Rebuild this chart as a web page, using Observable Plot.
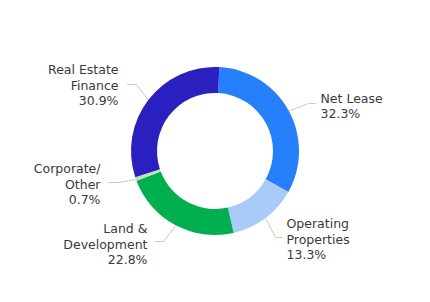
<!DOCTYPE html>
<html><head><meta charset="utf-8">
<script src="https://cdn.jsdelivr.net/npm/d3@7"></script>
<script src="https://cdn.jsdelivr.net/npm/@observablehq/plot@0.6"></script>
<style>body{margin:0;background:#fff}</style>
</head><body><div id="chart"></div>
<script>
// ---- data ----
const categories = ["Net Lease", "Operating Properties", "Land & Development", "Corporate/Other", "Real Estate Finance"];
const shares = [32.3, 13.3, 22.8, 0.7, 30.9];
const labelTexts = ["Net Lease\n32.3%", "Operating\nProperties\n13.3%", "Land &\nDevelopment\n22.8%", "Corporate/\nOther\n0.7%", "Real Estate\nFinance\n30.9%"];
const colors = ["#2680fb", "#a9cbf9", "#00b050", "#c6e0b4", "#2a1fbf"];

// ---- layout (pixels) ----
const W = 430, H = 302;
const cx = 215, cy = 151, rOuter = 84, rInner = 58;
const startDeg = 3;
const labelLayout = [
  {anchor: "start", tx: 320, ty: 105, ex: 315, ey: 103, bx: 308},
  {anchor: "start", tx: 286, ty: 238, ex: 282, ey: 237, bx: 275},
  {anchor: "end",   tx: 147, ty: 243, ex: 155, ey: 241, bx: 163},
  {anchor: "end",   tx: 100, ty: 183, ex: 108, ey: 182, bx: 118},
  {anchor: "end",   tx: 118, ty: 84,  ex: 127, ey: 84,  bx: 136}
];

const a0 = startDeg * Math.PI / 180;
const arcs = d3.pie().sort(null).startAngle(a0).endAngle(a0 + 2 * Math.PI)(shares);

const labels = categories.map((c, i) => ({category: c, text: labelTexts[i], ...labelLayout[i]}));
const leaders = [];
arcs.forEach((a, i) => {
  const m = (a.startAngle + a.endAngle) / 2;
  const L = labelLayout[i];
  leaders.push({k: i, x: cx + rOuter * Math.sin(m), y: cy - rOuter * Math.cos(m)});
  leaders.push({k: i, x: L.bx, y: L.ey});
  leaders.push({k: i, x: L.ex, y: L.ey});
});

const font = "'DejaVu Sans', sans-serif";

const chart = Plot.plot({
  width: W, height: H,
  margin: 0,
  x: {domain: [0, W], range: [0, W], axis: null},
  y: {domain: [0, H], range: [0, H], axis: null},
  style: {fontFamily: font, background: "#fff"},
  marks: [
    Plot.line(leaders, {x: "x", y: "y", z: "k", stroke: "#c9c9c9", strokeWidth: 1}),
    (index, scales) => {
      const g = d3.create("svg:g")
        .attr("transform", `translate(${scales.x(cx)},${scales.y(cy)})`);
      const arc = d3.arc().innerRadius(rInner).outerRadius(rOuter);
      g.selectAll("path").data(arcs).join("path")
        .attr("d", arc)
        .attr("fill", (d, i) => colors[i]);
      return g.node();
    },
    Plot.text(labels.filter(d => d.anchor === "start"), {x: "tx", y: "ty", text: "text", textAnchor: "start", lineHeight: 1.25, fontSize: 12.5, fill: "#3a3a3a"}),
    Plot.text(labels.filter(d => d.anchor === "end"), {x: "tx", y: "ty", text: "text", textAnchor: "end", lineHeight: 1.25, fontSize: 12.5, fill: "#3a3a3a"})
  ]
});
document.getElementById("chart").append(chart);
</script>
</body></html>
